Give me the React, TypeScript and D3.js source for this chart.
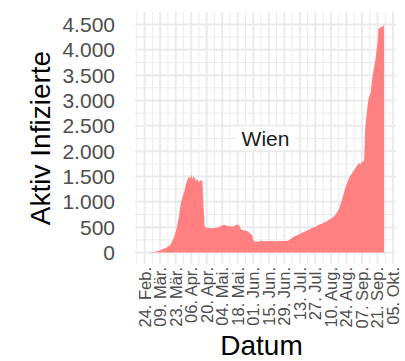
import React from "react";
import * as d3 from "d3";

const dates: string[] = [
  "2020-02-26","2020-03-01","2020-03-05","2020-03-09","2020-03-12","2020-03-15","2020-03-18","2020-03-20",
  "2020-03-22","2020-03-24","2020-03-26","2020-03-27","2020-03-28","2020-03-29","2020-03-30","2020-03-31",
  "2020-04-01","2020-04-02","2020-04-03","2020-04-04","2020-04-05","2020-04-06","2020-04-07","2020-04-08",
  "2020-04-09","2020-04-10","2020-04-11","2020-04-12","2020-04-13","2020-04-14","2020-04-15","2020-04-16",
  "2020-04-17","2020-04-18","2020-04-19","2020-04-21","2020-04-24","2020-04-27","2020-04-30","2020-05-02",
  "2020-05-04","2020-05-06","2020-05-08","2020-05-11","2020-05-14","2020-05-16","2020-05-18","2020-05-19",
  "2020-05-21","2020-05-24","2020-05-27","2020-05-29","2020-05-31","2020-06-01","2020-06-03","2020-06-06",
  "2020-06-08","2020-06-10","2020-06-14","2020-06-18","2020-06-22","2020-06-26","2020-06-30","2020-07-03",
  "2020-07-06","2020-07-09","2020-07-12","2020-07-15","2020-07-18","2020-07-21","2020-07-24","2020-07-27",
  "2020-07-30","2020-08-02","2020-08-05","2020-08-08","2020-08-11","2020-08-14","2020-08-17","2020-08-20",
  "2020-08-23","2020-08-26","2020-08-28","2020-08-31","2020-09-02","2020-09-04","2020-09-06","2020-09-07",
  "2020-09-08","2020-09-09","2020-09-10","2020-09-12","2020-09-13","2020-09-15","2020-09-16","2020-09-18",
  "2020-09-19","2020-09-21","2020-09-22","2020-09-24","2020-09-25","2020-09-26","2020-09-27"
];

const aktiv: number[] = [
  2,5,15,45,75,100,150,230,
  330,490,720,880,1000,1080,1150,1220,
  1330,1400,1460,1500,1450,1540,1440,1510,
  1470,1400,1460,1420,1380,1430,1400,1440,
  960,530,495,485,480,485,495,515,
  540,550,525,520,515,540,560,540,
  455,435,420,375,345,240,215,220,
  235,225,225,230,225,228,226,240,
  290,325,355,390,420,450,485,510,
  550,575,605,640,680,740,845,1040,
  1280,1450,1530,1630,1700,1760,1740,1800,
  1780,1840,2480,2880,3040,3170,3400,3660,
  3790,4120,4420,4440,4470,4450,4520
];

const tickDates: string[] = [
  "2020-02-24","2020-03-09","2020-03-23","2020-04-06","2020-04-20","2020-05-04","2020-05-18","2020-06-01",
  "2020-06-15","2020-06-29","2020-07-13","2020-07-27","2020-08-10","2020-08-24","2020-09-07","2020-09-21","2020-10-05"
];
const tickLabels: string[] = [
  "24. Feb.","09. Mär.","23. Mär.","06. Apr.","20. Apr.","04. Mai.","18. Mai.","01. Jun.",
  "15. Jun.","29. Jun.","13. Jul.","27. Jul.","10. Aug.","24. Aug.","07. Sep.","21. Sep.","05. Okt."
];
const yTicks: number[] = [0, 500, 1000, 1500, 2000, 2500, 3000, 3500, 4000, 4500];
const yTickLabels: string[] = ["0","500","1.000","1.500","2.000","2.500","3.000","3.500","4.000","4.500"];
const regionLabel = "Wien";
const xTitle = "Datum";
const yTitle = "Aktiv Infizierte";

const W = 405, H = 361;
const P = { left: 135, right: 396, top: 12, bottom: 264 };
const FONT = "'Liberation Sans', Arial, Helvetica, sans-serif";

export default function App() {
  const parse = d3.utcParse("%Y-%m-%d");
  const data = dates.map((d, i) => ({ date: parse(d) as Date, v: aktiv[i] }));
  const t0 = +data[0].date, t1 = +data[data.length - 1].date;
  const dx = (t1 - t0) * 0.05;
  const x = d3.scaleUtc().domain([new Date(t0 - dx), new Date(t1 + dx)]).range([P.left, P.right]);
  const vmax = d3.max(aktiv) as number;
  const dy = vmax * 0.05;
  const y = d3.scaleLinear().domain([-dy, vmax + dy]).range([P.bottom, P.top]);

  const area = d3.area<{ date: Date; v: number }>()
    .x(d => x(d.date)).y0(y(0)).y1(d => y(d.v));

  const ticks = tickDates.map(d => parse(d) as Date);
  const step = +ticks[1] - +ticks[0];
  const minorX: Date[] = [];
  for (let i = -1; i < ticks.length; i++) {
    const m = new Date(+ticks[0] + step * (i + 0.5));
    const px = x(m);
    if (px >= P.left && px <= P.right) minorX.push(m);
  }
  const minorY: number[] = [];
  for (let i = -1; i < yTicks.length; i++) {
    const m = yTicks[0] + 500 * (i + 0.5);
    const py = y(m);
    if (py >= P.top && py <= P.bottom) minorY.push(m);
  }
  const grid = "#EBEBEB";
  const labelX = x(new Date((t0 + t1) / 2));
  const labelY = y(vmax / 2);

  return (
    <svg width={W} height={H} style={{ position: "absolute", left: 0, top: 0, background: "#fff" }}>
      <rect x={0} y={0} width={W} height={H} fill="#fff" />
      <g>
        {minorY.map((m, i) => (
          <line key={"my" + i} x1={P.left} x2={P.right} y1={y(m)} y2={y(m)} stroke={grid} strokeWidth={1} />
        ))}
        {minorX.map((m, i) => (
          <line key={"mx" + i} y1={P.top} y2={P.bottom} x1={x(m)} x2={x(m)} stroke={grid} strokeWidth={1} />
        ))}
        {yTicks.map((t, i) => (
          <line key={"y" + i} x1={P.left} x2={P.right} y1={y(t)} y2={y(t)} stroke={grid} strokeWidth={2} />
        ))}
        {ticks.map((t, i) => (
          <line key={"x" + i} y1={P.top} y2={P.bottom} x1={x(t)} x2={x(t)} stroke={grid} strokeWidth={2} />
        ))}
      </g>
      <path d={area(data) as string} fill="#FF8080" />
      <g fontFamily={FONT}>
        <rect x={labelX - 29} y={labelY - 11.5} width={58} height={23} fill="#fff" rx={2} />
        <text x={labelX} y={labelY} dy="0.36em" textAnchor="middle" fontSize={21} fill="#1a1a1a">{regionLabel}</text>
        {yTicks.map((t, i) => (
          <text key={"yl" + i} x={115} y={y(t)} dy="0.36em" textAnchor="end" fontSize={21} fill="#4D4D4D">{yTickLabels[i]}</text>
        ))}
        {ticks.map((t, i) => (
          <text key={"xl" + i} transform={`translate(${x(t)},267) rotate(-90)`} dy="0.36em" textAnchor="end" fontSize={16.5} fill="#4D4D4D">{tickLabels[i]}</text>
        ))}
        <text x={(P.left + P.right) / 2 - 4} y={355} textAnchor="middle" fontSize={28} fill="#000">{xTitle}</text>
        <text transform={`translate(50,${(P.top + P.bottom) / 2}) rotate(-90)`} textAnchor="middle" fontSize={28} fill="#000">{yTitle}</text>
      </g>
    </svg>
  );
}
